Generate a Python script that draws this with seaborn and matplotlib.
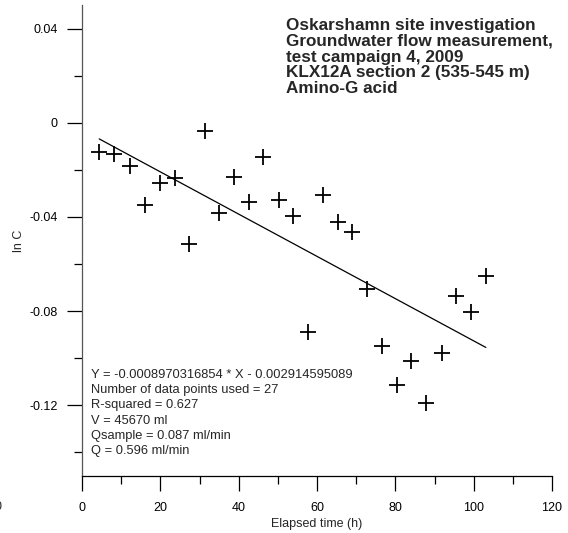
import matplotlib
matplotlib.use("Agg")
import matplotlib.pyplot as plt
import seaborn as sns
import numpy as np
import pandas as pd
from matplotlib.ticker import FixedLocator, FixedFormatter, MultipleLocator

# ---- data ----
elapsed_h = [4.4, 8.2, 12.3, 16.2, 19.8, 23.8, 27.4, 31.3, 35.0, 38.8, 42.6,
             46.2, 50.2, 53.9, 57.8, 61.6, 65.3, 69.0, 72.8, 76.7, 80.5,
             84.1, 87.9, 91.8, 95.5, 99.3, 103.1]
ln_c = [-0.0123, -0.0133, -0.0185, -0.0348, -0.0256, -0.0236, -0.0514,
        -0.0034, -0.0383, -0.0229, -0.0338, -0.0144, -0.0328, -0.0394,
        -0.0889, -0.0307, -0.0420, -0.0465, -0.0705, -0.0946, -0.1112,
        -0.1012, -0.1189, -0.0977, -0.0737, -0.0805, -0.0652]
slope = -0.0008970316854
intercept = -0.002914595089

x_ticks = [0, 20, 40, 60, 80, 100, 120]
x_tick_labels = ["0", "20", "40", "60", "80", "100", "120"]
y_ticks = [0.04, 0.0, -0.04, -0.08, -0.12]
y_tick_labels = ["0.04", "0", "-0.04", "-0.08", "-0.12"]

title_lines = ["Oskarshamn site investigation",
               "Groundwater flow measurement,",
               "test campaign 4, 2009",
               "KLX12A section 2 (535-545 m)",
               "Amino-G acid"]
info_lines = ["Y = -0.0008970316854 * X - 0.002914595089",
              "Number of data points used = 27",
              "R-squared = 0.627",
              "V = 45670 ml",
              "Qsample = 0.087 ml/min",
              "Q = 0.596 ml/min"]

df = pd.DataFrame({"t": elapsed_h, "lnc": ln_c})
fit_x = np.array([min(elapsed_h), max(elapsed_h)])
fit = pd.DataFrame({"t": fit_x, "lnc": slope * fit_x + intercept})

# ---- plot ----
sns.set_style("white")
plt.rcParams["font.family"] = ["Liberation Sans", "DejaVu Sans"]

fig = plt.figure(figsize=(5.68, 5.33), dpi=100)
ax = fig.add_axes([82 / 568, 1 - 476 / 533, 470 / 568, 471 / 533])

sns.scatterplot(data=df, x="t", y="lnc", marker="+", s=135, color="black",
                linewidth=1.3, ax=ax, legend=False)
sns.lineplot(data=fit, x="t", y="lnc", color="black", linewidth=0.9, ax=ax)

ax.set_xlim(0, 120)
ax.set_ylim(-0.15, 0.05)

ax.xaxis.set_major_locator(FixedLocator(x_ticks))
ax.xaxis.set_major_formatter(FixedFormatter(x_tick_labels))
ax.xaxis.set_minor_locator(MultipleLocator(10))
ax.yaxis.set_major_locator(FixedLocator(y_ticks))
ax.yaxis.set_major_formatter(FixedFormatter(y_tick_labels))
ax.yaxis.set_minor_locator(MultipleLocator(0.02))

for s in ["top", "right"]:
    ax.spines[s].set_visible(False)
ax.spines["left"].set_color("#555555")
ax.spines["bottom"].set_color("black")
for s in ["left", "bottom"]:
    ax.spines[s].set_linewidth(0.9)

ax.tick_params(axis="both", which="major", direction="out", length=11,
               width=0.9, color="black", labelsize=9, labelcolor="black")
ax.tick_params(axis="x", which="major", pad=7.5)
ax.tick_params(axis="y", which="major", pad=6.5)
ax.tick_params(axis="both", which="minor", direction="out", length=5.5,
               width=0.9, color="black")
ax.tick_params(axis="both", which="both", bottom=True, left=True)

ax.set_xlabel("Elapsed time (h)", fontsize=9, labelpad=3)
ax.set_ylabel("ln C", fontsize=9, labelpad=3)

# partially clipped tick label at the far left edge, as in the reference
ax.annotate("0", xy=(-21.5, 0), xycoords=("data", "axes fraction"),
            xytext=(0, -22.5), textcoords="offset points",
            fontsize=9, ha="center", va="center", annotation_clip=False)

ax.text(0.434, 0.9725, "\n".join(title_lines), transform=ax.transAxes,
        fontsize=12.3, fontweight="bold", ha="left", va="top",
        linespacing=1.07)
ax.text(0.019, 0.2276, "\n".join(info_lines), transform=ax.transAxes,
        fontsize=9.3, ha="left", va="top", linespacing=1.36)

fig.savefig("out.png", dpi=100)
